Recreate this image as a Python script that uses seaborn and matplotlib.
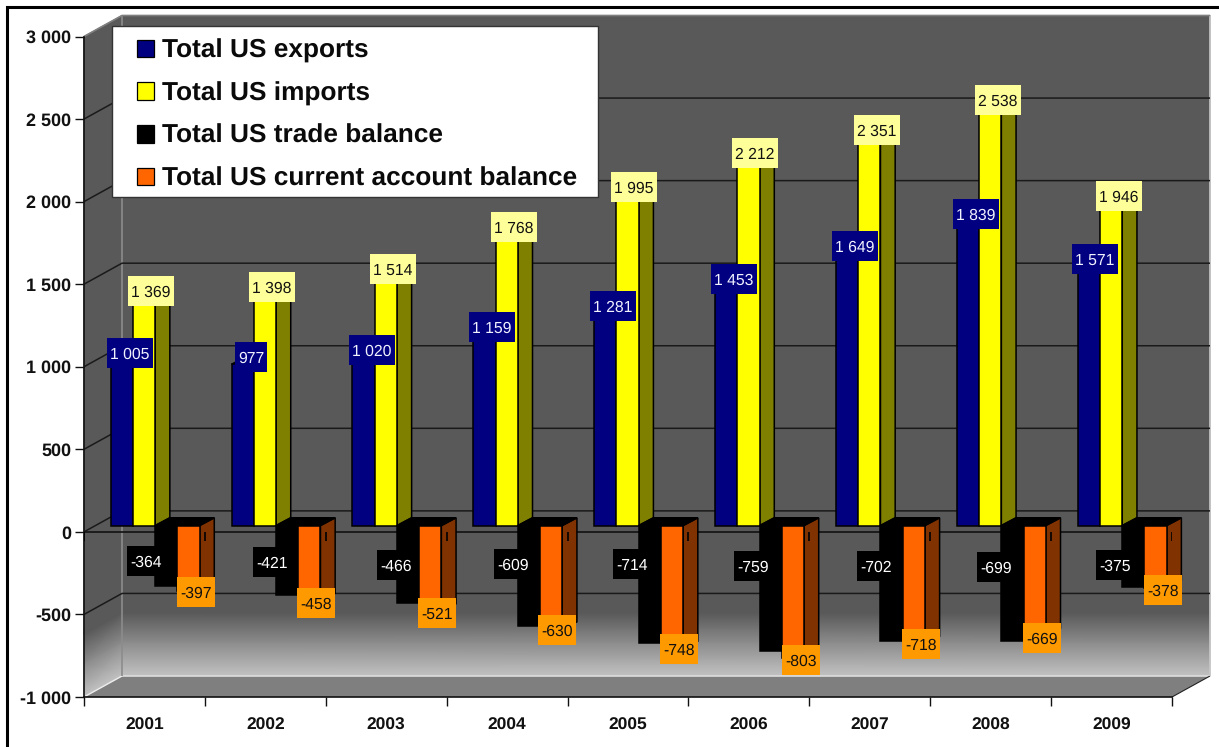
import numpy as np
import pandas as pd
import seaborn as sns
import matplotlib
matplotlib.use("Agg")
import matplotlib.pyplot as plt
from matplotlib.lines import Line2D
from matplotlib.patches import Patch, Polygon, Rectangle
from matplotlib.transforms import Affine2D

# Values in billions of US dollars
years = ["2001", "2002", "2003", "2004", "2005", "2006", "2007", "2008", "2009"]
exports = [1005, 977, 1020, 1159, 1281, 1453, 1649, 1839, 1571]
imports = [1369, 1398, 1514, 1768, 1995, 2212, 2351, 2538, 1946]
trade_balance = [-364, -421, -466, -609, -714, -759, -702, -699, -375]
current_account = [-397, -458, -521, -630, -748, -803, -718, -669, -378]
series_names = ["Total US exports", "Total US imports", "Total US trade balance",
                "Total US current account balance"]

# Styling for each series: front face, side face, top face, label box, label text
front_colors = ["#000080", "#FFFF00", "#000000", "#FF6600"]
side_colors = ["#000040", "#808000", "#000000", "#803300"]
top_colors = ["#000060", "#B3B300", "#000000", "#000000"]
box_colors = ["#000080", "#FFFF99", "#000000", "#FF9900"]
text_colors = ["#F2F2FF", "#111111", "#FFFFFF", "#111111"]

# Hand-placed label centres, in pixels from the top-left corner
export_label_xy = [(130, 353), (251, 357), (372, 350), (492, 327), (613, 306),
                   (734, 279), (855, 246), (976, 214), (1095, 259)]
import_label_xy = [(151, 291), (272, 287), (393, 269), (514, 227), (634, 187),
                   (755, 153), (877, 130), (998, 100), (1119, 196)]
trade_label_xy = [(146, 561), (272, 562), (396, 565), (513, 564), (632, 564),
                  (753, 566), (876, 566), (996, 567), (1115, 565)]
account_label_xy = [(196, 592), (316, 603), (437, 613), (557, 630), (679, 649),
                    (801, 660), (921, 644), (1042, 638), (1163, 590)]
label_xy = [export_label_xy, import_label_xy, trade_label_xy, account_label_xy]

W, H = 1219, 747
LEFT, RIGHT, TOP, BOTTOM = 84.0, 1172.0, 36.5, 697.0
Y_MIN, Y_MAX = -1000, 3000
PX_PER_CAT = (RIGHT - LEFT) / len(years)
PX_PER_UNIT = (BOTTOM - TOP) / (Y_MAX - Y_MIN)


def cat(px):
    return px / PX_PER_CAT


def units(px):
    return px / PX_PER_UNIT


# Pseudo-3D depth offsets, expressed in data units
wall_dx, wall_dy = cat(38), units(21)
bar_dx, bar_dy = cat(10.7), units(6.3)
depth_dx, depth_dy = cat(14.7), units(7.8)

sns.set_theme(style="white")
plt.rcParams["font.family"] = ["Liberation Sans", "DejaVu Sans"]
plt.rcParams["text.hinting"] = "no_hinting"

fig = plt.figure(figsize=(W / 100, H / 100), dpi=100, facecolor="white")
position = [LEFT / W, 1 - BOTTOM / H, (RIGHT - LEFT) / W, (BOTTOM - TOP) / H]
wall_ax = fig.add_axes(position, zorder=0)
ax = fig.add_axes(position, zorder=1)
ax.set_facecolor("none")
pix = Affine2D().scale(1, -1).translate(0, H)

table = pd.DataFrame({"year": years * 4,
                      "value": exports + imports + trade_balance + current_account,
                      "series": np.repeat(series_names, len(years))})
sns.barplot(data=table, x="year", y="value", hue="series", hue_order=series_names,
            order=years, palette=front_colors, saturation=1, width=0.735, gap=0,
            edgecolor="black", linewidth=1.1, legend=False, ax=ax)

x0, x1 = -0.5, len(years) - 0.5
ax.set_xlim(x0, x1)
ax.set_ylim(Y_MIN, Y_MAX)

# Walls: dark grey that lightens towards the floor
shade_pos = np.array([0.0, 0.905, 0.95, 1.0])
shade_val = np.array([0.35, 0.35, 0.55, 0.76])
rows = Y_MAX - shade_pos * (Y_MAX - Y_MIN)
back_x = np.array([[x0 + wall_dx, x1 + wall_dx]] * len(rows))
back_y = np.column_stack([rows + wall_dy, rows + wall_dy])
side_x = np.array([[x0, x0 + wall_dx]] * len(rows))
side_y = np.column_stack([rows, rows + wall_dy])
shade = np.column_stack([shade_val, shade_val])
for mx, my in ((side_x, side_y), (back_x, back_y)):
    wall_ax.pcolormesh(mx, my, shade, shading="gouraud", cmap="gray", vmin=0, vmax=1,
                       clip_on=False)
wall_ax.set_xlim(x0, x1)
wall_ax.set_ylim(Y_MIN, Y_MAX)
wall_ax.axis("off")

# Floor
ax.add_patch(Polygon([(x0, Y_MIN), (x1, Y_MIN), (x1 + wall_dx, Y_MIN + wall_dy),
                      (x0 + wall_dx, Y_MIN + wall_dy)], closed=True, facecolor="#7F7F7F",
                     edgecolor="none", zorder=0.2, clip_on=False))
edge = dict(clip_on=False, solid_capstyle="butt")
ax.plot([x0 + wall_dx, x1 + wall_dx], [Y_MIN + wall_dy] * 2, color="#DDDDDD", lw=1.2, zorder=0.3, **edge)
ax.plot([x0, x0 + wall_dx], [Y_MIN, Y_MIN + wall_dy], color="#EEEEEE", lw=1.0, zorder=0.3, **edge)
ax.plot([x1, x1 + wall_dx], [Y_MIN, Y_MIN + wall_dy], color="#222222", lw=0.8, zorder=0.3, **edge)
ax.plot([x0 + wall_dx] * 2, [Y_MIN + wall_dy, Y_MAX + wall_dy], color="#8C8C8C", lw=1.2, zorder=0.3, **edge)
ax.plot([x1 + wall_dx] * 2, [Y_MIN + wall_dy, Y_MAX + wall_dy], color="#C8C8C8", lw=1.2, zorder=0.3, **edge)
ax.plot([x0, x0 + wall_dx, x1 + wall_dx], [Y_MAX, Y_MAX + wall_dy, Y_MAX + wall_dy],
        color="#808080", lw=1.2, zorder=0.3, **edge)

# Gridlines run along the side wall and across the back wall
y_ticks = np.arange(Y_MIN, Y_MAX + 1, 500)
for v in y_ticks[1:-1]:
    ax.plot([x0, x0 + wall_dx, x1 + wall_dx], [v, v + wall_dy, v + wall_dy],
            color="#1A1A1A", lw=1.1, zorder=1, **edge)

# Zero line on the front plane, with its category ticks
boundaries = np.arange(x0, x1 + 1)
ax.plot([x0, x1], [0, 0], color="#111111", lw=1.2, zorder=1.5, **edge)
ax.vlines(boundaries, units(-9), 0, color="#000000", lw=1.2, zorder=6)

# Lift every bar off the front plane and give it a side and a top
for s, container in enumerate(ax.containers):
    base_z = 2 + s
    for bar in container.patches:
        bar.set_x(bar.get_x() + bar_dx)
        bar.set_y(bar_dy)
        bar.set_zorder(base_z + 0.5)
        bx, bw, bv = bar.get_x(), bar.get_width(), bar.get_height()
        right = bx + bw
        end = bar_dy + bv
        side = [(right, bar_dy), (right + depth_dx, bar_dy + depth_dy),
                (right + depth_dx, end + depth_dy), (right, end)]
        ax.add_patch(Polygon(side, closed=True, facecolor=side_colors[s], edgecolor="black",
                             lw=1.1, zorder=base_z, clip_on=False))
        cap_y = max(bar_dy, end)
        top = [(bx, cap_y), (right, cap_y), (right + depth_dx, cap_y + depth_dy),
               (bx + depth_dx, cap_y + depth_dy)]
        ax.add_patch(Polygon(top, closed=True, facecolor=top_colors[s], edgecolor="black",
                             lw=1.1, zorder=base_z + 0.2, clip_on=False))


def spaced(v):
    return f"{v:,}".replace(",", " ")


# Value labels on filled boxes
renderer = fig.canvas.get_renderer()
all_values = [exports, imports, trade_balance, current_account]
for s, values in enumerate(all_values):
    for v, (cx, cy) in zip(values, label_xy[s]):
        txt = ax.text(cx, cy, spaced(v), transform=pix, ha="center", va="center_baseline",
                      fontsize=11.3, color=text_colors[s], zorder=7.5, clip_on=False)
        width = txt.get_window_extent(renderer).width + 6
        ax.add_patch(Rectangle((cx - width / 2, cy - 15), width, 30, transform=pix,
                               facecolor=box_colors[s], edgecolor="none", zorder=7, clip_on=False))

# Axes
ax.set_yticks(y_ticks, [spaced(int(v)) for v in y_ticks])
ax.set_xticks(range(len(years)), years)
ax.set_xticks(boundaries, minor=True)
ax.tick_params(axis="y", which="major", length=6.5, width=1.0, color="#111111", pad=2.5,
               left=True, labelsize=13, labelcolor="#111111")
ax.tick_params(axis="x", which="major", length=0, pad=14.5, labelsize=12.5, labelcolor="#111111")
ax.tick_params(axis="x", which="minor", length=6.5, width=1.0, color="#111111", bottom=True)
for lab in ax.get_xticklabels() + ax.get_yticklabels():
    lab.set_fontweight("bold")
ax.set_xlabel("")
ax.set_ylabel("")
for name in ("top", "right"):
    ax.spines[name].set_visible(False)
for name in ("left", "bottom"):
    ax.spines[name].set_color("#111111")
    ax.spines[name].set_linewidth(1.2)
    ax.spines[name].set_zorder(5)

# Legend over the upper left of the plot, on its own white panel
ax.add_patch(Rectangle((111.7, 25.5), 486.3, 171.5, transform=pix, facecolor="white",
                       edgecolor="#333333", lw=1.0, zorder=7.9, clip_on=False))
handles = [Patch(facecolor=c, edgecolor="black", linewidth=0.9) for c in front_colors]
legend = ax.legend(handles, series_names, loc="upper left",
                   bbox_to_anchor=(137 / W, 1 - 39 / H), bbox_transform=fig.transFigure,
                   frameon=False, borderaxespad=0, borderpad=0,
                   handlelength=0.65, handleheight=0.65, handletextpad=0.3,
                   labelspacing=0.70, prop={"weight": "bold", "size": 18.9})
legend.set_zorder(8)
for t in legend.get_texts():
    t.set_color("#0A0A0A")

# Outer frame along the left and top edges
fig.add_artist(Line2D([6.5, 6.5, W], [H, 6.5, 6.5], transform=pix, color="black", lw=2.2,
                      solid_joinstyle="miter"))

fig.savefig("out.png", dpi=100, facecolor="white")
